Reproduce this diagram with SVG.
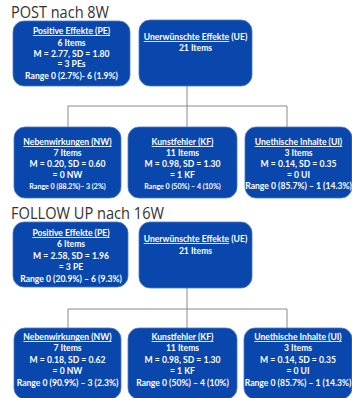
<svg xmlns="http://www.w3.org/2000/svg" width="352" height="398" viewBox="0 0 352 398">
<style>
.box{fill:#0A47AC;stroke:#4a78c8;stroke-width:0.8}
.t{font-family:Lato,"Open Sans",sans-serif;font-weight:bold;font-size:8.6px;fill:#fff;text-anchor:middle}
.s{font-size:7.1px}
.h{font-family:"Open Sans","Liberation Sans",sans-serif;font-size:16px;fill:#333}
.c{fill:none;stroke:#8a8a8a;stroke-width:1}
</style>
<rect width="352" height="398" fill="#fff"/>
<text class="h" x="11" y="17.5" textLength="98" lengthAdjust="spacingAndGlyphs">POST nach 8W</text>
<text class="h" x="11" y="219" textLength="153" lengthAdjust="spacingAndGlyphs">FOLLOW UP nach 16W</text>
<g id="connectors">
<path class="c" d="M187 86V106M68 106H287M68 106V127M187 106V127M287 106V127"/>
<path class="c" d="M187 288V309M68 309H287M68 309V328M187 309V328M287 309V328"/>
</g>
<g id="pe1">
<rect class="box" x="13" y="21" width="117" height="65" rx="11"/>
<text class="t" x="71.5" y="34"><tspan text-decoration="underline">Positive Effekte (PE)</tspan></text>
<text class="t" x="71.5" y="46">6 Items</text>
<text class="t" x="71.5" y="57">M = 2.77, SD = 1.80</text>
<text class="t" x="71.5" y="67">= 3 PEs</text>
<text class="t" x="71.5" y="79">Range 0 (2.7%)- 6 (1.9%)</text>
</g>
<g id="ue1">
<rect class="box" x="139" y="20" width="113" height="66" rx="11"/>
<text class="t" x="195.5" y="40"><tspan text-decoration="underline">Unerwünschte Effekte</tspan> (UE)</text>
<text class="t" x="195.5" y="51">21 Items</text>
</g>
<g id="nw1">
<rect class="box" x="14" y="127" width="107" height="71" rx="11"/>
<text class="t" x="67.5" y="145"><tspan text-decoration="underline">Nebenwirkungen (NW)</tspan></text>
<text class="t" x="67.5" y="155.5">7 Items</text>
<text class="t" x="67.5" y="166.5">M = 0.20, SD = 0.60</text>
<text class="t" x="67.5" y="177.5">= 0 NW</text>
<text class="t s" x="67.5" y="188.5">Range 0 (88.2%)– 3 (2%)</text>
</g>
<g id="kf1">
<rect class="box" x="128" y="127" width="109" height="71" rx="11"/>
<text class="t" x="182.5" y="145"><tspan text-decoration="underline">Kunstfehler (KF)</tspan></text>
<text class="t" x="182.5" y="155.5">11 Items</text>
<text class="t" x="182.5" y="166.5">M = 0.98, SD = 1.30</text>
<text class="t" x="182.5" y="177.5">= 1 KF</text>
<text class="t s" x="182.5" y="188.5">Range 0 (50%) – 4 (10%)</text>
</g>
<g id="ui1">
<rect class="box" x="245" y="127" width="107" height="71" rx="11"/>
<text class="t" x="298.5" y="145"><tspan text-decoration="underline">Unethische Inhalte (UI)</tspan></text>
<text class="t" x="298.5" y="155.5">3 Items</text>
<text class="t" x="298.5" y="166.5">M = 0.14, SD = 0.35</text>
<text class="t" x="298.5" y="177.5">= 0 UI</text>
<text class="t" x="298.5" y="189">Range 0 (85.7%) – 1 (14.3%)</text>
</g>
<g id="pe2">
<rect class="box" x="13" y="222" width="115" height="65" rx="11"/>
<text class="t" x="71" y="236"><tspan text-decoration="underline">Positive Effekte (PE)</tspan></text>
<text class="t" x="71" y="247">6 Items</text>
<text class="t" x="71" y="258.5">M = 2.58, SD = 1.96</text>
<text class="t" x="71" y="270">= 3 PE</text>
<text class="t" x="71" y="281.5">Range 0 (20.9%) – 6 (9.3%)</text>
</g>
<g id="ue2">
<rect class="box" x="139" y="222" width="113" height="66" rx="11"/>
<text class="t" x="195.5" y="242"><tspan text-decoration="underline">Unerwünschte Effekte</tspan> (UE)</text>
<text class="t" x="195.5" y="254">21 Items</text>
</g>
<g id="nw2">
<rect class="box" x="14" y="328" width="107" height="71" rx="11"/>
<text class="t" x="67.5" y="340"><tspan text-decoration="underline">Nebenwirkungen (NW)</tspan></text>
<text class="t" x="67.5" y="351">7 Items</text>
<text class="t" x="67.5" y="362.5">M = 0.18, SD = 0.62</text>
<text class="t" x="67.5" y="374">= 0 NW</text>
<text class="t" x="67.5" y="385.5">Range 0 (90.9%) – 3 (2.3%)</text>
</g>
<g id="kf2">
<rect class="box" x="128" y="328" width="109" height="71" rx="11"/>
<text class="t" x="182.5" y="340"><tspan text-decoration="underline">Kunstfehler (KF)</tspan></text>
<text class="t" x="182.5" y="351">11 Items</text>
<text class="t" x="182.5" y="362.5">M = 0.98, SD = 1.30</text>
<text class="t" x="182.5" y="374">= 1 KF</text>
<text class="t" x="182.5" y="385.5">Range 0 (50%) – 4 (10%)</text>
</g>
<g id="ui2">
<rect class="box" x="244" y="328" width="108" height="71" rx="11"/>
<text class="t" x="298" y="340"><tspan text-decoration="underline">Unethische Inhalte (UI)</tspan></text>
<text class="t" x="298" y="351">3 Items</text>
<text class="t" x="298" y="362.5">M = 0.14, SD = 0.35</text>
<text class="t" x="298" y="374">= 0 UI</text>
<text class="t" x="298" y="385.5">Range 0 (85.7%) – 1 (14.3%)</text>
</g>
</svg>
